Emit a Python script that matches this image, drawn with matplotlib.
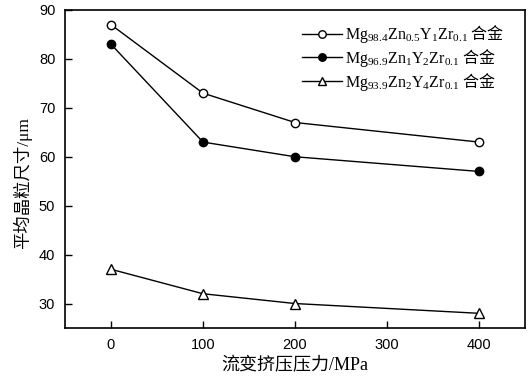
import matplotlib
matplotlib.use("Agg")
import matplotlib.pyplot as plt

plt.rcParams["mathtext.fontset"] = "custom"
plt.rcParams["mathtext.rm"] = "Liberation Serif"
plt.rcParams["mathtext.it"] = "Liberation Serif:italic"
plt.rcParams["mathtext.sf"] = "Noto Sans CJK SC"

pressure = [0, 100, 200, 400]
alloy_a = [87, 73, 67, 63]
alloy_b = [83, 63, 60, 57]
alloy_c = [37, 32, 30, 28]
labels = [
    r"$\mathrm{Mg_{98.4}Zn_{0.5}Y_{1}Zr_{0.1}}\ \mathsf{合金}$",
    r"$\mathrm{Mg_{96.9}Zn_{1}Y_{2}Zr_{0.1}}\ \mathsf{合金}$",
    r"$\mathrm{Mg_{93.9}Zn_{2}Y_{4}Zr_{0.1}}\ \mathsf{合金}$",
]
x_ticks = [0, 100, 200, 300, 400]
y_ticks = [30, 40, 50, 60, 70, 80, 90]

fig = plt.figure(figsize=(5.3, 3.77), dpi=100)
ax = fig.add_axes([0.1226, 0.13, 0.868, 0.8435])

ax.plot(pressure, alloy_a, "-o", color="black", mfc="white", ms=6, lw=1, label=labels[0])
ax.plot(pressure, alloy_b, "-o", color="black", mfc="black", ms=6, lw=1, label=labels[1])
ax.plot(pressure, alloy_c, "-^", color="black", mfc="white", ms=7, lw=1, label=labels[2])

ax.set_xlim(-50, 450)
ax.set_ylim(25, 90)
ax.set_xticks(x_ticks)
ax.set_yticks(y_ticks)
ax.tick_params(direction="in", length=5, width=1, labelsize=10.5, pad=7)
for lab in ax.get_xticklabels() + ax.get_yticklabels():
    lab.set_family("Liberation Sans")
for s in ax.spines.values():
    s.set_linewidth(1.2)

cjk = ["Liberation Serif", "Noto Sans CJK SC"]
ax.set_xlabel("流变挤压压力/MPa", family=cjk, fontsize=13)
ax.set_ylabel("平均晶粒尺寸/μm", family=cjk, fontsize=12.5)
ax.yaxis.set_label_coords(-0.072, 0.456)

ax.legend(loc="upper left", bbox_to_anchor=(0.515, 0.958), frameon=False,
          borderpad=0, borderaxespad=0, handlelength=2.5, handletextpad=0.2,
          labelspacing=0.1, markerscale=0.9,
          prop={"family": "Liberation Serif", "size": 11.5})

fig.savefig("out.png", dpi=100)
